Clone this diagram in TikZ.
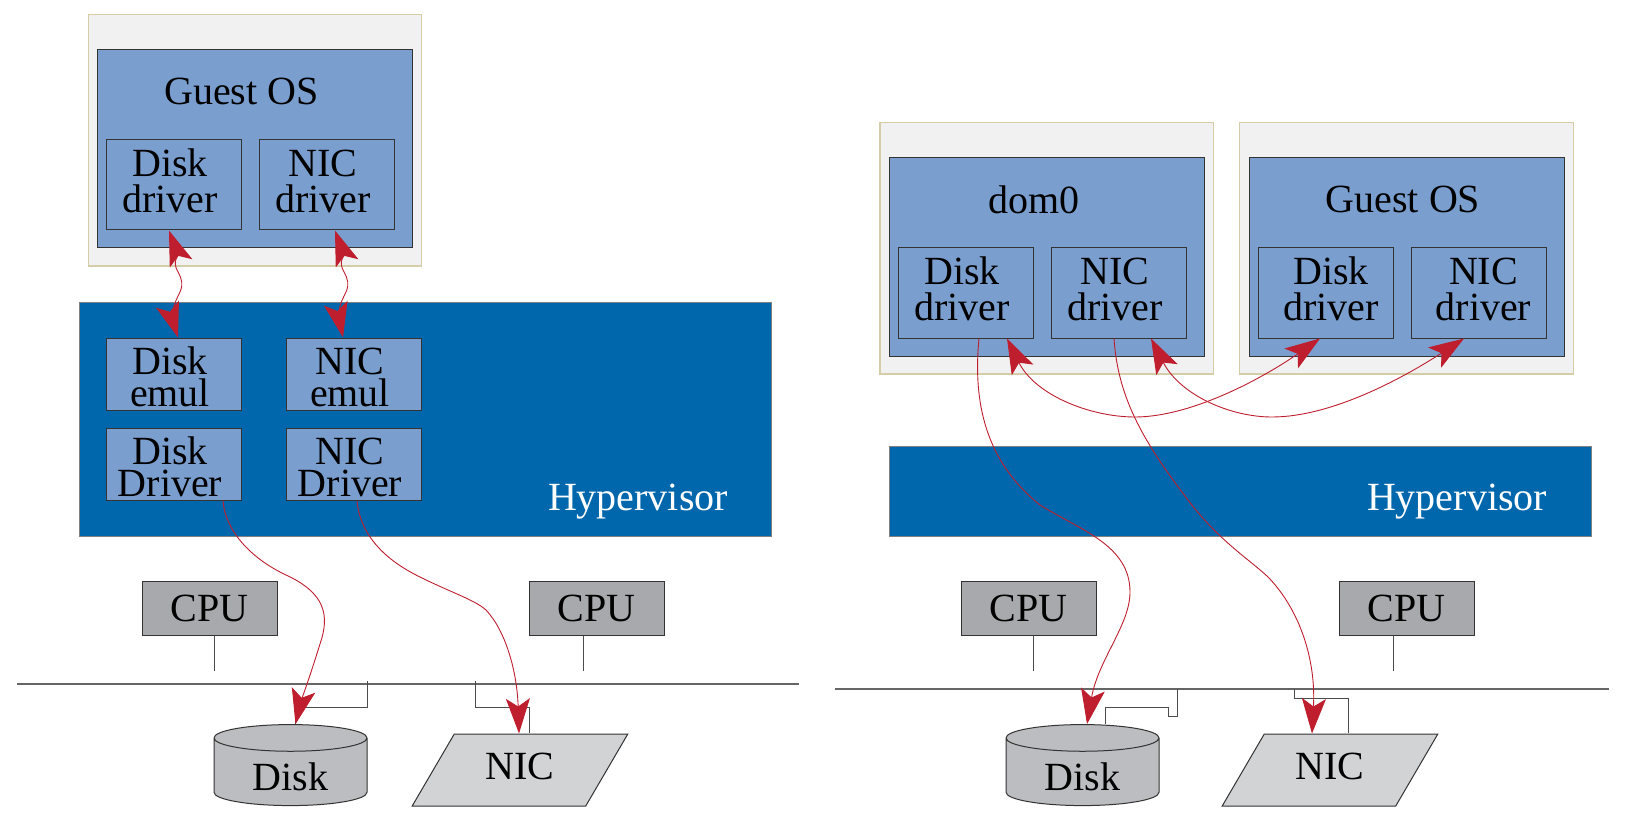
\documentclass[tikz,border=0pt]{standalone}
\usepackage{fontspec}
\setmainfont{Liberation Serif}
\usetikzlibrary{arrows.meta,shapes.geometric}
\definecolor{paleback}{HTML}{F1F1F2}
\definecolor{paleedge}{HTML}{D5CDA8}
\definecolor{guestblue}{HTML}{7A9FCF}
\definecolor{hyperblue}{HTML}{0067AC}
\definecolor{chipgray}{HTML}{A7A9AC}
\definecolor{diskgray}{HTML}{BCBDC0}
\definecolor{nicgray}{HTML}{D1D3D4}
\definecolor{flowred}{HTML}{BE1E2D}
\newcommand{\shifttwo}[3]{\hspace*{#1}#2\\\hspace*{#1}#3}
\tikzset{
  bigtext/.style={font=\fontsize{40}{36}\selectfont},
  domback/.style={draw=paleedge, fill=paleback, line width=1.3pt, minimum width=333.5pt, minimum height=251.5pt, inner sep=0pt},
  dombox/.style={draw=black!80, fill=guestblue, line width=1pt, minimum width=315pt, minimum height=198pt, inner sep=0pt},
  drvbox/.style={bigtext, draw=black!80, fill=guestblue, line width=1pt, minimum width=135pt, minimum height=90pt, inner sep=0pt, align=center, text depth=8pt},
  emulbox/.style={draw=black!80, fill=guestblue, line width=1pt, minimum width=135pt, minimum height=72pt, inner sep=0pt, align=center, font=\fontsize{40}{32}\selectfont, text height=65pt},
  hyperbox/.style={draw=black!50, fill=hyperblue, line width=1pt, inner sep=0pt},
  cpubox/.style={bigtext, draw=black!80, fill=chipgray, line width=1pt, minimum width=135pt, minimum height=54pt, inner sep=0pt},
  diskcan/.style={bigtext, cylinder, shape border rotate=90, aspect=0.353, draw=black!80, fill=diskgray, line width=1pt, minimum width=153pt, minimum height=81pt, inner sep=0pt, text height=38pt},
  nicpara/.style={bigtext, trapezium, trapezium left angle=57.4, trapezium right angle=122.6, trapezium stretches=true, draw=black!80, fill=nicgray, line width=1pt, minimum width=216pt, minimum height=72pt, inner sep=0pt, text depth=8pt},
  busline/.style={draw=black!60, line width=1.3pt},
  stemline/.style={draw=black!70, line width=1pt},
  flowtip/.tip={Stealth[length=35pt, width=24pt, inset=8pt]},
  flowline/.style={draw=flowred, line width=0.9pt, -flowtip},
  flowboth/.style={draw=flowred, line width=0.9pt, flowtip-flowtip}
}
\begin{document}
\begin{tikzpicture}[x=1pt, y=-1pt]
  \useasboundingbox (0,0) rectangle (1629,826);
  % left machine
  \node[domback] (lback) at (255,140.25) {};
  \node[dombox] (lguest) at (254.5,149) {};
  \node[bigtext] (lguesttxt) at (241.5,91) {Guest OS};
  \node[drvbox] (ldiskdrv) at (174,185) {\shifttwo{-8pt}{Disk}{driver}};
  \node[drvbox] (lnicdrv) at (327,185) {\shifttwo{-8pt}{NIC}{driver}};
  \node[hyperbox, minimum width=692pt, minimum height=234pt] (lhyper) at (425,419) {};
  \node[emulbox] (ldiskemu) at (174,374) {\shifttwo{-8pt}{Disk}{emul}};
  \node[emulbox] (lnicemu) at (354,374) {\shifttwo{-8pt}{NIC}{emul}};
  \node[emulbox] (ldiskreal) at (174,464) {\shifttwo{-8pt}{Disk}{Driver}};
  \node[emulbox] (lnicreal) at (354,464) {\shifttwo{-8pt}{NIC}{Driver}};
  \node[bigtext, white] (lhypertxt) at (638,502) {Hypervisor};
  \node[cpubox] (lcpua) at (209.5,608) {CPU};
  \node[cpubox] (lcpub) at (596.5,608) {CPU};
  \node[diskcan] (ldisk) at (290.5,772) {Disk};
  \node[nicpara] (lnic) at (520,770) {NIC};
  \coordinate (lbusw) at (17,684);
  \coordinate (lbuse) at (799,684);
  \coordinate (lstema) at (214,671);
  \coordinate (lstemb) at (583,671);
  \coordinate (ltapd) at (367,681);
  \coordinate (ltapn) at (475,681);
  \draw[busline] (lbusw) -- (lbuse);
  \draw[stemline] ([xshift=4.5pt]lcpua.south) -- (lstema);
  \draw[stemline] ([xshift=-13.5pt]lcpub.south) -- (lstemb);
  \draw[stemline] (ltapd) -- ++(0,26) -| ([xshift=4.5pt]ldisk.north);
  \draw[stemline] (ltapn) -- ++(0,26) -| ([xshift=9pt]lnic.north);
  \draw[flowboth] ([xshift=-5pt]ldiskdrv.south) .. controls (178,255) and (172,262) .. (178,272) .. controls (187,288) and (178,292) .. (174,306) .. controls (172,315) and (175,328) .. ([xshift=4pt]ldiskemu.north);
  \draw[flowboth] ([xshift=8pt]lnicdrv.south) .. controls (344,255) and (338,262) .. (344,272) .. controls (353,288) and (344,292) .. (340,306) .. controls (338,315) and (341,328) .. ([xshift=-11pt]lnicemu.north);
  \draw[flowline] ([xshift=49pt]ldiskreal.south) .. controls (225,530) and (250,558) .. (286,575) .. controls (325,593) and (330,615) .. (320,644) .. controls (312,670) and (300,705) .. ([xshift=5pt]ldisk.north);
  \draw[flowline] ([xshift=3pt]lnicreal.south) .. controls (360,535) and (385,560) .. (420,577) .. controls (450,592) and (475,600) .. (486,610) .. controls (505,630) and (517,670) .. ([xshift=-1pt]lnic.north);
  % right machine
  \node[domback] (dback) at (1046.75,248.25) {};
  \node[dombox] (ddom) at (1046.5,257) {};
  \node[bigtext] (ddomtxt) at (1034,199.5) {dom0};
  \node[drvbox] (ddiskdrv) at (966,293) {\shifttwo{-8pt}{Disk}{driver}};
  \node[drvbox] (dnicdrv) at (1119,293) {\shifttwo{-8pt}{NIC}{driver}};
  \node[domback] (gback) at (1406.5,248.25) {};
  \node[dombox] (gguest) at (1406.5,257) {};
  \node[bigtext] (gguesttxt) at (1403,199.5) {Guest OS};
  \node[drvbox] (gdiskdrv) at (1326,293) {\shifttwo{10pt}{Disk}{driver}};
  \node[drvbox] (gnicdrv) at (1478.5,293) {\shifttwo{10pt}{NIC}{driver}};
  \node[hyperbox, minimum width=702pt, minimum height=90pt] (rhyper) at (1240,491) {};
  \node[bigtext, white] (rhypertxt) at (1457,502) {Hypervisor};
  \node[cpubox] (rcpua) at (1028.5,608) {CPU};
  \node[cpubox] (rcpub) at (1406.5,608) {CPU};
  \node[diskcan] (rdisk) at (1082.5,772) {Disk};
  \node[nicpara] (rnic) at (1330,770) {NIC};
  \coordinate (rbusw) at (835,689);
  \coordinate (rbuse) at (1609,689);
  \coordinate (rstema) at (1033,671);
  \coordinate (rstemb) at (1393,671);
  \coordinate (rtapd) at (1177,689);
  \coordinate (rtapn) at (1294,689);
  \draw[busline] (rbusw) -- (rbuse);
  \draw[stemline] ([xshift=4.5pt]rcpua.south) -- (rstema);
  \draw[stemline] ([xshift=-13.5pt]rcpub.south) -- (rstemb);
  \draw[stemline] (rtapd) -- ++(0,27) -- ++(-9,0) -- ++(0,-9) -| ([xshift=22.5pt]rdisk.north);
  \draw[stemline] (rtapn) -- ++(0,9) -| ([xshift=18pt]rnic.north);
  \draw[flowline] ([xshift=13pt]ddiskdrv.south) .. controls (972,410) and (990,465) .. (1040,505) .. controls (1080,530) and (1130,545) .. (1130,592) .. controls (1130,625) and (1098,660) .. ([xshift=4.5pt]rdisk.north);
  \draw[flowline] ([xshift=-5pt]dnicdrv.south) .. controls (1118,400) and (1145,445) .. (1195,509) .. controls (1225,545) and (1250,560) .. (1268,577) .. controls (1300,610) and (1316,660) .. ([xshift=-18pt]rnic.north);
  \draw[flowboth] ([xshift=41pt]ddiskdrv.south) .. controls (1035,395) and (1090,417) .. (1135,417) .. controls (1190,417) and (1260,380) .. ([xshift=-6pt]gdiskdrv.south);
  \draw[flowboth] ([xshift=32pt]dnicdrv.south) .. controls (1180,395) and (1230,417) .. (1272,417) .. controls (1330,417) and (1400,380) .. ([xshift=-14.5pt]gnicdrv.south);
\end{tikzpicture}
\end{document}
